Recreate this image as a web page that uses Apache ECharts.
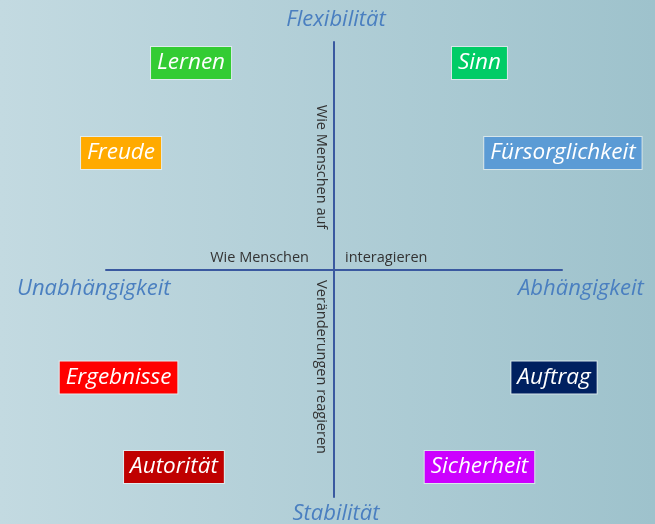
<!DOCTYPE html>
<html><head><meta charset="utf-8">
<script src="https://cdn.jsdelivr.net/npm/echarts@6/dist/echarts.min.js"></script>
<style>html,body{margin:0;padding:0;}#c{width:655px;height:524px;}</style>
</head><body><div id="c"></div>
<script>
// Data
const labels = ['Lernen','Sinn','Freude','Fürsorglichkeit','Ergebnisse','Auftrag','Autorität','Sicherheit'];
const xValues = [-0.627, 0.638, -0.934, 1.004, -0.945, 0.965, -0.702, 0.638];
const yValues = [0.908, 0.908, 0.512, 0.512, -0.475, -0.475, -0.868, -0.868];
const boxColors = ['#33cc33','#00cc66','#ffaa00','#5b9bd5','#ff0000','#002060','#c00000','#cc00ff'];
const axisTitles = ['Flexibilität','Stabilität','Unabhängigkeit','Abhängigkeit'];

const chart = echarts.init(document.getElementById('c'));
const titleStyle = {fill:'#4a7fc0', font:'italic 22px "Open Sans", sans-serif'};
const smallStyle = {fill:'#333', font:'14.5px "Open Sans", sans-serif'};
chart.setOption({
  animation:false,
  grid:{left:106,right:93,top:42,bottom:27},
  xAxis:{type:'value',min:-1,max:1,splitLine:{show:false},axisTick:{show:false},axisLabel:{show:false},
    axisLine:{show:true,onZero:true,lineStyle:{color:'#3a59a0',width:2}}},
  yAxis:{type:'value',min:-1,max:1,splitLine:{show:false},axisTick:{show:false},axisLabel:{show:false},
    axisLine:{show:true,onZero:true,lineStyle:{color:'#3a59a0',width:2}}},
  graphic:[
    {type:'rect',z:-10,silent:true,shape:{x:0,y:0,width:655,height:524},
     style:{fill:new echarts.graphic.LinearGradient(0,0,1,0,[{offset:0,color:'#c3dae1'},{offset:1,color:'#9ec2cc'}])}},
    {type:'text',x:336,y:20,style:Object.assign({text:axisTitles[0],textAlign:'center',textVerticalAlign:'middle'},titleStyle)},
    {type:'text',x:336,y:514,style:Object.assign({text:axisTitles[1],textAlign:'center',textVerticalAlign:'middle'},titleStyle)},
    {type:'text',x:17,y:289,style:Object.assign({text:axisTitles[2],textAlign:'left',textVerticalAlign:'middle'},titleStyle)},
    {type:'text',x:518,y:289,style:Object.assign({text:axisTitles[3],textAlign:'left',textVerticalAlign:'middle'},titleStyle)},
    {type:'text',x:309,y:258,style:Object.assign({text:'Wie Menschen',textAlign:'right',textVerticalAlign:'middle'},smallStyle)},
    {type:'text',x:345,y:258,style:Object.assign({text:'interagieren',textAlign:'left',textVerticalAlign:'middle'},smallStyle)},
    {type:'text',x:321,y:167,rotation:-Math.PI/2,style:Object.assign({text:'Wie Menschen auf',textAlign:'center',textVerticalAlign:'middle'},smallStyle)},
    {type:'text',x:321,y:367,rotation:-Math.PI/2,style:Object.assign({text:'Veränderungen reagieren',textAlign:'center',textVerticalAlign:'middle'},smallStyle)}
  ],
  series:[{
    type:'scatter',symbolSize:1,itemStyle:{color:'rgba(0,0,0,0)',opacity:1},clip:false,
    emphasis:{disabled:true},
    data:labels.map((n,i)=>({name:n,value:[xValues[i],yValues[i]],
      label:{backgroundColor:boxColors[i]}})),
    label:{show:true,position:'inside',formatter:'{b}',color:'#fff',fontStyle:'italic',fontSize:22.5,
      lineHeight:24,fontFamily:'"Open Sans", sans-serif',padding:[4,6,4,6],borderColor:'rgba(255,255,255,0.55)',borderWidth:1}
  }]
});
</script></body></html>
